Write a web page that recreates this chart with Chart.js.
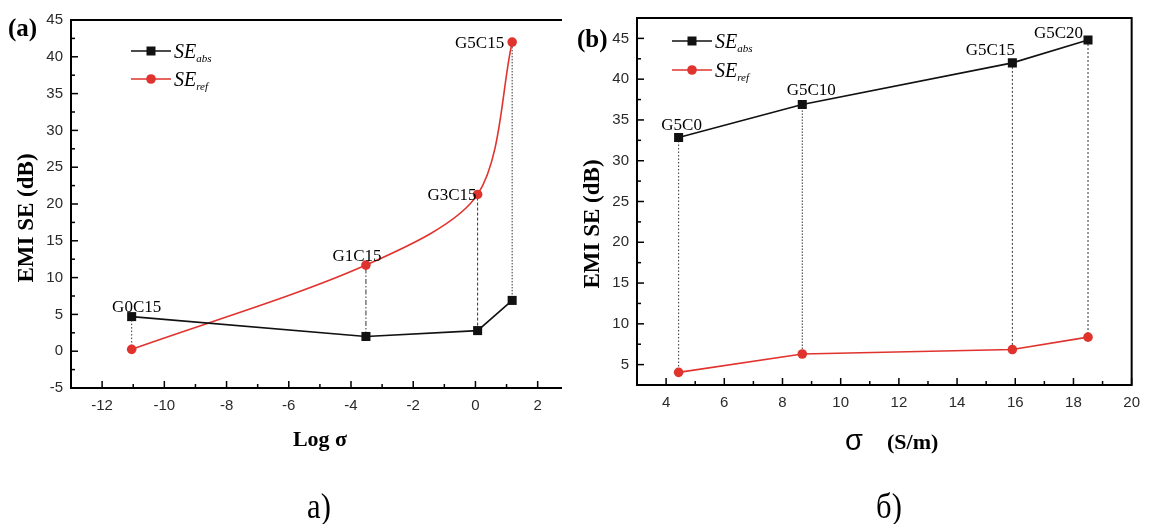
<!DOCTYPE html>
<html><head><meta charset="utf-8">
<script src="https://cdn.jsdelivr.net/npm/chart.js@4.4.1/dist/chart.umd.min.js"></script>
<style>
html,body{margin:0;padding:0;background:#fff;}
#wrap{position:relative;width:1149px;height:524px;overflow:hidden;background:#fff;}
canvas{position:absolute;top:0;}
.t{position:absolute;font-family:"Liberation Serif","Times New Roman",serif;color:#000;white-space:nowrap;line-height:1;}
.b{font-weight:bold;}
</style></head><body>
<div id="wrap">
<canvas id="ca" width="575" height="470" style="left:0;width:575px;height:470px"></canvas>
<canvas id="cb" width="574" height="470" style="left:575px;width:574px;height:470px"></canvas>
<div class="t b" style="left:8px;top:15px;font-size:25px">(a)</div>
<div class="t b" style="left:577px;top:26px;font-size:25px">(b)</div>
<div class="t b" style="left:25px;top:218px;font-size:23px;transform:translate(-50%,-50%) rotate(-90deg)">EMI SE (dB)</div>
<div class="t b" style="left:591px;top:224px;font-size:23px;transform:translate(-50%,-50%) rotate(-90deg)">EMI SE (dB)</div>
<div class="t b" style="left:320px;top:428px;font-size:22px;transform:translateX(-50%)">Log σ</div>
<div class="t" style="left:845px;top:426px;font-size:29px;font-family:'Liberation Sans',Arial,sans-serif">σ</div>
<div class="t b" style="left:887px;top:431px;font-size:22px">(S/m)</div>
<div class="t" style="left:319px;top:488px;font-size:36px;transform:translateX(-50%) scaleX(0.85)">a)</div>
<div class="t" style="left:889px;top:488px;font-size:36px;transform:translateX(-50%) scaleX(0.85)">б)</div>
</div>
<script>
// ---- data (a): EMI SE vs log sigma ----
const logSigma = [-11.05, -3.52, 0.07, 1.18];
const samplesA = ['G0C15', 'G1C15', 'G3C15', 'G5C15'];
const seAbsA = [4.7, 2.0, 2.8, 6.9];
const seRefA = [0.25, 11.7, 21.3, 42.0];
const xTicksA = [-12, -10, -8, -6, -4, -2, 0, 2];
const yTicksA = [-5, 0, 5, 10, 15, 20, 25, 30, 35, 40, 45];
const xRangeA = [-13, 2.75];
const yRangeA = [-5, 45];

// ---- data (b): EMI SE vs sigma ----
const sigma = [4.43, 8.68, 15.9, 18.5];
const samplesB = ['G5C0', 'G5C10', 'G5C15', 'G5C20'];
const seAbsB = [32.85, 36.9, 42.0, 44.8];
const seRefB = [4.05, 6.3, 6.85, 8.37];
const xTicksB = [4, 6, 8, 10, 12, 14, 16, 18, 20];
const yTicksB = [5, 10, 15, 20, 25, 30, 35, 40, 45];
const xRangeB = [3, 20];
const yRangeB = [2.5, 47.5];

const BLACK = '#111111';
const RED = '#e0332e';
const TICKC = '#2a2a2a';

function pts(xs, ys) { return xs.map((x, i) => ({x: x, y: ys[i]})); }

function dropSets(xs, a, b, dashes) {
  return xs.map((x, i) => ({
    data: [{x: x, y: a[i]}, {x: x, y: b[i]}],
    borderColor: '#333', borderWidth: 1, borderDash: dashes[i],
    pointRadius: 0, pointHoverRadius: 0, fill: false, order: 3
  }));
}

const deco = {
  id: 'deco',
  afterDraw(chart, args, o) {
    const ctx = chart.ctx, ca = chart.chartArea;
    const xs = chart.scales.x, ys = chart.scales.y;
    ctx.save();
    // ticks (inward)
    ctx.strokeStyle = '#000'; ctx.lineWidth = 1.5;
    xs.ticks.forEach(t => {
      const v = t.value;
      if (Math.abs(v - Math.round(v)) > 1e-6) return;
      const px = xs.getPixelForValue(v);
      const len = o.xMajor.includes(v) ? 7 : 4;
      ctx.beginPath(); ctx.moveTo(px, ca.bottom); ctx.lineTo(px, ca.bottom - len); ctx.stroke();
    });
    ys.ticks.forEach(t => {
      const v = t.value;
      const py = ys.getPixelForValue(v);
      const len = o.yMajor.includes(v) ? 7 : 4;
      ctx.beginPath(); ctx.moveTo(ca.left, py); ctx.lineTo(ca.left + len, py); ctx.stroke();
    });
    // frame
    ctx.lineWidth = 2; ctx.strokeStyle = '#000'; ctx.lineCap = 'square';
    ctx.beginPath();
    ctx.moveTo(ca.left, ca.top); ctx.lineTo(ca.left, ca.bottom); ctx.lineTo(ca.right, ca.bottom);
    if (o.rightBorder) { ctx.lineTo(ca.right, ca.top); ctx.lineTo(ca.left, ca.top); }
    else { ctx.moveTo(ca.left, ca.top); ctx.lineTo(ca.right, ca.top); }
    ctx.stroke();
    // point labels
    ctx.fillStyle = '#000';
    ctx.font = '17px "Liberation Serif", "Times New Roman", serif';
    ctx.textBaseline = 'alphabetic';
    o.names.forEach((n, i) => {
      const px = xs.getPixelForValue(o.lx[i]);
      const py = ys.getPixelForValue(Math.max(o.la[i], o.lb[i]));
      const st = o.lstyle[i];
      ctx.textAlign = st[2];
      ctx.fillText(n, px + st[0], py + st[1]);
    });
    // legend
    const L = o.legend;
    const rows = [
      {c: BLACK, s: 'rect', sub: 'abs'},
      {c: RED, s: 'circle', sub: 'ref'}
    ];
    rows.forEach((r, k) => {
      const y = L.y + k * L.dy, x0 = ca.left + L.dx;
      ctx.strokeStyle = r.c; ctx.fillStyle = r.c; ctx.lineWidth = 1.5; ctx.lineCap = 'butt';
      ctx.beginPath(); ctx.moveTo(x0, y); ctx.lineTo(x0 + 40, y); ctx.stroke();
      ctx.beginPath();
      if (r.s === 'rect') ctx.rect(x0 + 20 - 4.5, y - 4.5, 9, 9);
      else ctx.arc(x0 + 20, y, 4.8, 0, Math.PI * 2);
      ctx.fill();
      ctx.fillStyle = '#000'; ctx.textAlign = 'left';
      ctx.font = 'italic 20px "Liberation Serif", "Times New Roman", serif';
      ctx.fillText('SE', x0 + 43, y + 7);
      const w = ctx.measureText('SE').width;
      ctx.font = 'italic 11px "Liberation Serif", "Times New Roman", serif';
      ctx.fillText(r.sub, x0 + 43 + w, y + 11);
    });
    ctx.restore();
  }
};

function makeChart(id, cfg) {
  return new Chart(document.getElementById(id), {
    type: 'line',
    data: {
      datasets: [
        ...dropSets(cfg.xs, cfg.abs, cfg.ref, cfg.dashes),
        {data: pts(cfg.xs, cfg.ref), borderColor: RED, backgroundColor: RED, borderWidth: 1.6,
         pointStyle: 'circle', pointRadius: 4.8, pointBorderWidth: 0, fill: false, order: 2,
         tension: cfg.tension},
        {data: pts(cfg.xs, cfg.abs), borderColor: BLACK, backgroundColor: BLACK, borderWidth: 1.6,
         pointStyle: 'rect', pointRadius: 6.4, pointBorderWidth: 0, fill: false, order: 1, tension: 0}
      ]
    },
    options: {
      responsive: false, animation: false, events: [],
      layout: {padding: cfg.pad},
      plugins: {
        legend: {display: false}, tooltip: {enabled: false},
        deco: cfg.deco
      },
      scales: {
        x: {
          type: 'linear', min: cfg.xr[0], max: cfg.xr[1],
          grid: {display: false, drawTicks: false}, border: {display: false},
          ticks: {stepSize: 1, autoSkip: false, includeBounds: false, maxRotation: 0, padding: 9, color: TICKC,
                  font: {family: '"Liberation Sans", Arial, sans-serif', size: 15},
                  callback: v => cfg.xl.includes(v) ? String(v) : ''},
          afterFit: s => { s.height = 40; }
        },
        y: {
          type: 'linear', min: cfg.yr[0], max: cfg.yr[1],
          grid: {display: false, drawTicks: false}, border: {display: false},
          ticks: {stepSize: 2.5, autoSkip: false, padding: 8, color: TICKC,
                  font: {family: '"Liberation Sans", Arial, sans-serif', size: 15},
                  callback: v => cfg.yl.includes(v) ? String(v) : ''},
          afterFit: s => { s.width = cfg.yw; }
        }
      }
    },
    plugins: [deco]
  });
}

makeChart('ca', {
  xs: logSigma, abs: seAbsA, ref: seRefA, tension: 0.3,
  dashes: [[1.5, 2], [5, 2, 1.5, 2], [3, 2], [1.5, 1.5]],
  xr: xRangeA, yr: yRangeA, xl: xTicksA, yl: yTicksA,
  pad: {left: 0, top: 20, right: 14, bottom: 42}, yw: 71,
  deco: {
    xMajor: xTicksA, yMajor: yTicksA, rightBorder: false,
    names: samplesA, lx: logSigma, la: seAbsA, lb: seRefA,
    lstyle: [[5, -5, 'center'], [-9, -4, 'center'], [-1, 6, 'right'], [-8, 6, 'right']],
    legend: {dx: 60, y: 51, dy: 28}
  }
});

makeChart('cb', {
  xs: sigma, abs: seAbsB, ref: seRefB, tension: 0,
  dashes: [[1.5, 2], [1.5, 1.5], [2, 2], [2, 2]],
  xr: xRangeB, yr: yRangeB, xl: xTicksB, yl: yTicksB,
  pad: {left: 0, top: 18, right: 16, bottom: 45}, yw: 62,
  deco: {
    xMajor: xTicksB, yMajor: yTicksB, rightBorder: true,
    names: samplesB, lx: sigma, la: seAbsB, lb: seRefB,
    lstyle: [[3, -7, 'center'], [9, -9, 'center'], [-22, -8, 'center'], [-5, -2, 'right']],
    legend: {dx: 35, y: 41, dy: 29}
  }
});
</script>
</body></html>
